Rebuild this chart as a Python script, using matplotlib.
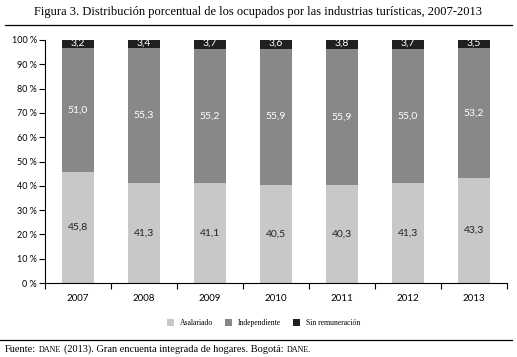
import matplotlib.pyplot as plt
import numpy as np
from matplotlib.lines import Line2D
from matplotlib.offsetbox import TextArea, HPacker, AnchoredOffsetbox

years = ['2007', '2008', '2009', '2010', '2011', '2012', '2013']
asalariado = [45.8, 41.3, 41.1, 40.5, 40.3, 41.3, 43.3]
independiente = [51.0, 55.3, 55.2, 55.9, 55.9, 55.0, 53.2]
sin_remun = [3.2, 3.4, 3.7, 3.6, 3.8, 3.7, 3.5]
series_names = ['Asalariado', 'Independiente', 'Sin remuneración']
colors = ['#c8c8c8', '#88888b', '#231f20']
label_colors = ['#222222', 'white', 'white']

fig = plt.figure(figsize=(5.17, 3.57), dpi=100)
ax = fig.add_axes([0.087, 0.207, 0.893, 0.681])

x = np.arange(len(years))
bottom = np.zeros(len(years))
bars = []
for vals, c, lc in zip([asalariado, independiente, sin_remun], colors, label_colors):
    vals = np.array(vals)
    b = ax.bar(x, vals, width=0.49, bottom=bottom, color=c, edgecolor='none')
    bars.append(b)
    for xi, v, bt in zip(x, vals, bottom):
        ypos = bt + v / 2 if v > 10 else bt + v / 2 + 0.4
        ax.text(xi, ypos, f'{v:.1f}'.replace('.', ','), ha='center', va='center',
                fontsize=7.5, color=lc, family='Lato')
    bottom += vals

ax.set_xlim(-0.5, len(years) - 0.5)
ax.set_ylim(0, 100)
ax.set_yticks(np.arange(0, 101, 10))
ax.set_yticklabels([f'{v} %' for v in range(0, 101, 10)], fontsize=6.5, family='Lato')
ax.set_xticks(np.arange(-0.5, len(years)))
ax.set_xticklabels([])
ax.set_xticks(x, minor=True)
ax.set_xticklabels(years, minor=True, fontsize=7, family='Lato')
ax.tick_params(axis='x', which='minor', length=0, pad=8)
ax.tick_params(axis='x', which='major', length=4, direction='out', width=0.8)
ax.tick_params(axis='y', length=4, direction='out', width=0.8, pad=2)
for s in ['top', 'right']:
    ax.spines[s].set_visible(False)
ax.spines['left'].set_linewidth(0.8)
ax.spines['bottom'].set_linewidth(0.8)

fig.text(0.5, 0.966, 'Figura 3. Distribución porcentual de los ocupados por las industrias turísticas, 2007-2013',
         ha='center', va='center', fontsize=9, family='Liberation Serif')
fig.add_artist(Line2D([0.01, 0.99], [0.93, 0.93], color='black', linewidth=0.9))

fig.legend(bars, series_names, loc='center', bbox_to_anchor=(0.51, 0.095), ncol=3, frameon=False,
           prop={'family': 'Liberation Serif', 'size': 5.5}, handlelength=0.9, handleheight=0.9,
           columnspacing=1.6, handletextpad=0.8)

fig.add_artist(Line2D([0.0, 0.99], [0.048, 0.048], color='black', linewidth=0.9))

# footer, "DANE" in small caps
parts = [('Fuente:', 7.5), ('DANE', 5.8), ('(2013). Gran encuenta integrada de hogares. Bogotá:', 7.5),
         ('DANE.', 5.8)]
areas = [TextArea(t, textprops=dict(fontsize=fs, family='Liberation Serif')) for t, fs in parts]
footer = HPacker(children=areas, align='baseline', pad=0, sep=2)
box = AnchoredOffsetbox(loc='lower left', child=footer, pad=0, borderpad=0, frameon=False,
                        bbox_to_anchor=(5 / 517, 0.008), bbox_transform=fig.transFigure)
fig.add_artist(box)

fig.savefig('out.png', dpi=100)
